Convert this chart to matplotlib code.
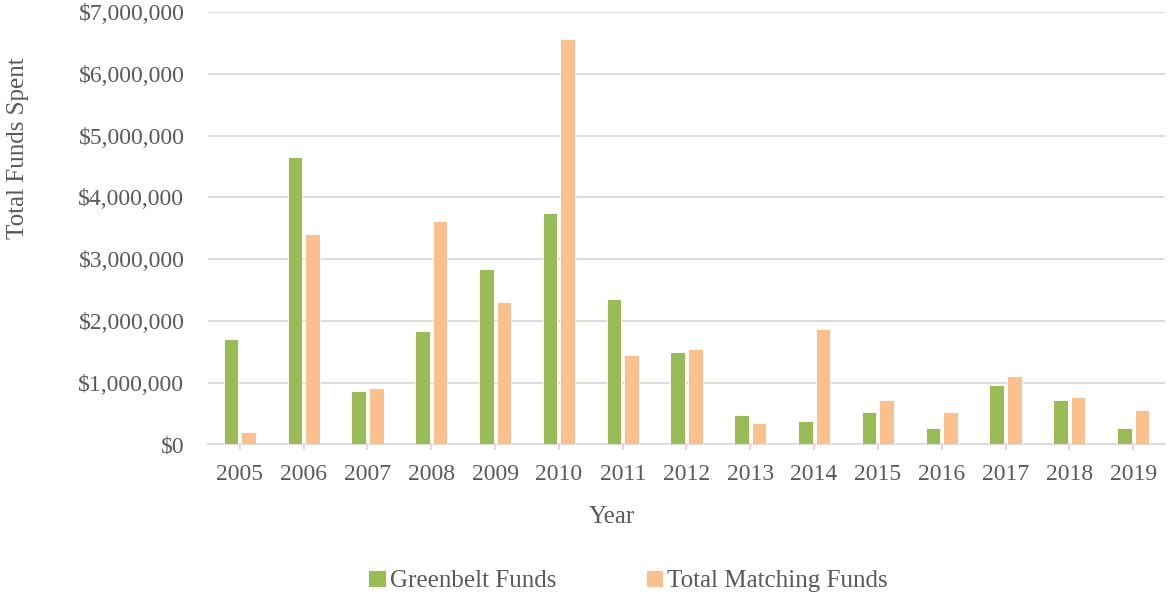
import numpy as np
import matplotlib.pyplot as plt
from matplotlib.ticker import FuncFormatter, MultipleLocator

plt.rcParams['font.family'] = ['Liberation Serif', 'DejaVu Serif']

# 数据
years = ['2005', '2006', '2007', '2008', '2009', '2010', '2011', '2012',
         '2013', '2014', '2015', '2016', '2017', '2018', '2019']
greenbelt = [1700000, 4650000, 870000, 1840000, 2840000, 3750000, 2360000, 1500000,
             475000, 370000, 530000, 265000, 960000, 710000, 270000]
matching = [195000, 3405000, 910000, 3620000, 2300000, 6560000, 1450000, 1550000,
            345000, 1870000, 710000, 520000, 1110000, 760000, 556000]

green = '#9BBB59'
orange = '#FAC090'
grey = '#595959'

fig = plt.figure(figsize=(11.73, 6), dpi=100)
ax = fig.add_axes([0.1773, 0.2595, 0.9932 - 0.1773, 0.98 - 0.2595])

x = np.arange(len(years))
w = 0.228
ax.bar(x - 0.138, greenbelt, w, color=green, edgecolor='white', linewidth=0.6,
       label='Greenbelt Funds', zorder=3)
ax.bar(x + 0.138, matching, w, color=orange, edgecolor='white', linewidth=0.6,
       label='Total Matching Funds', zorder=3)

ax.set_xlim(-0.5, len(years) - 0.5)
ax.set_ylim(0, 7000000)
ax.yaxis.set_major_locator(MultipleLocator(1000000))
ax.yaxis.set_major_formatter(FuncFormatter(lambda v, p: '${:,.0f}'.format(v)))
ax.grid(axis='y', color='#D9D9D9', linewidth=1.3, zorder=0)

for s in ['top', 'right', 'left']:
    ax.spines[s].set_visible(False)
ax.spines['bottom'].set_color('#D9D9D9')
ax.spines['bottom'].set_linewidth(1.3)

ax.set_xticks(x)
ax.set_xticklabels(years)
ax.tick_params(axis='x', colors='#D9D9D9', labelcolor=grey, labelsize=17,
               length=4, width=1.3, pad=10)
ax.tick_params(axis='y', length=0, labelcolor=grey, labelsize=17, pad=17)

fig.text(18 / 1173, 1 - 148 / 600, 'Total Funds Spent', rotation=90,
         ha='center', va='center', fontsize=18, color=grey)
fig.text(612 / 1173, 1 - 517 / 600, 'Year', ha='center', va='center',
         fontsize=18, color=grey)

leg = fig.legend(loc='center', bbox_to_anchor=(628 / 1173, 1 - 581 / 600), ncol=2,
                 frameon=False, fontsize=18, handlelength=0.7, handleheight=0.7,
                 handletextpad=0.15, columnspacing=3.6)
for t in leg.get_texts():
    t.set_color(grey)

fig.savefig('out.png', dpi=100)
